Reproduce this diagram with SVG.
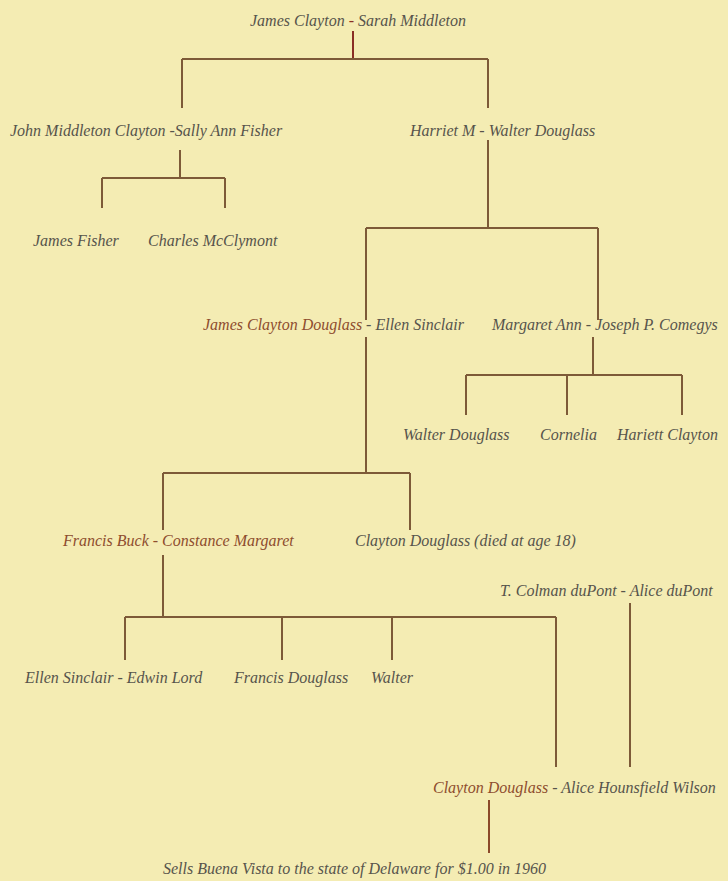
<svg xmlns="http://www.w3.org/2000/svg" width="728" height="881" viewBox="0 0 728 881">
<style>
.t{font-family:"Liberation Serif","DejaVu Serif",serif;font-style:italic;font-size:16px;fill:#57544c}
.b{fill:#8e4d2e}
.c{stroke:#7d5a38;stroke-width:2;fill:none}
.r{stroke:#8a2e24;stroke-width:2;fill:none}
</style>
<rect width="728" height="881" fill="#f4ecb3"/>
<g id="connectors">
<path class="r" d="M353 31V59"/>
<path class="c" d="M182 59H488M182 59V108M488 59V108"/>
<path class="c" d="M180 150V178M102 178H225M102 178V208M225 178V208"/>
<path class="c" d="M488 140V228M366 228H598M366 228V320M598 228V320"/>
<path class="c" d="M366 337V473M163 473H410M163 473V530M410 473V530"/>
<path class="c" d="M593 337V375M466 375H682M466 375V415M567 375V415M682 375V415"/>
<path class="c" d="M163 555V617M125 617H556M125 617V660M282 617V660M392 617V660M556 617V767"/>
<path class="c" d="M630 603V767"/>
<path class="r" d="M489 800V853" style="stroke:#8b4a2a"/>
</g>
<g id="n-james-sarah"><text class="t" x="250" y="26">James Clayton <tspan class="b" style="fill:#8a2e24">-</tspan> Sarah Middleton</text></g>
<g id="n-john-sally"><text class="t" x="10" y="136">John Middleton Clayton -Sally Ann Fisher</text></g>
<g id="n-harriet-walter"><text class="t" x="410" y="136">Harriet M - Walter Douglass</text></g>
<g id="n-james-fisher"><text class="t" x="33" y="246">James Fisher</text></g>
<g id="n-charles"><text class="t" x="148" y="246">Charles McClymont</text></g>
<g id="n-jcd-ellen"><text class="t" x="203" y="330"><tspan class="b">James Clayton Douglass</tspan> - Ellen Sinclair</text></g>
<g id="n-margaret-joseph"><text class="t" x="492" y="330">Margaret Ann - Joseph P. Comegys</text></g>
<g id="n-walter-douglass"><text class="t" x="403" y="440">Walter Douglass</text></g>
<g id="n-cornelia"><text class="t" x="540" y="440">Cornelia</text></g>
<g id="n-hariett"><text class="t" x="617" y="440">Hariett Clayton</text></g>
<g id="n-francis-constance"><text class="t b" x="63" y="546">Francis Buck - Constance Margaret</text></g>
<g id="n-clayton-18"><text class="t" x="355" y="546">Clayton Douglass (died at age 18)</text></g>
<g id="n-colman-alice"><text class="t" x="500" y="596">T. Colman duPont - Alice duPont</text></g>
<g id="n-ellen-edwin"><text class="t" x="25" y="683">Ellen Sinclair - Edwin Lord</text></g>
<g id="n-francis-douglass"><text class="t" x="234" y="683">Francis Douglass</text></g>
<g id="n-walter"><text class="t" x="371" y="683">Walter</text></g>
<g id="n-clayton-alice"><text class="t" x="433" y="793"><tspan class="b">Clayton Douglass</tspan> - Alice Hounsfield Wilson</text></g>
<g id="n-sells"><text class="t" x="163" y="874">Sells Buena Vista to the state of Delaware for $1.00 in 1960</text></g>
</svg>
